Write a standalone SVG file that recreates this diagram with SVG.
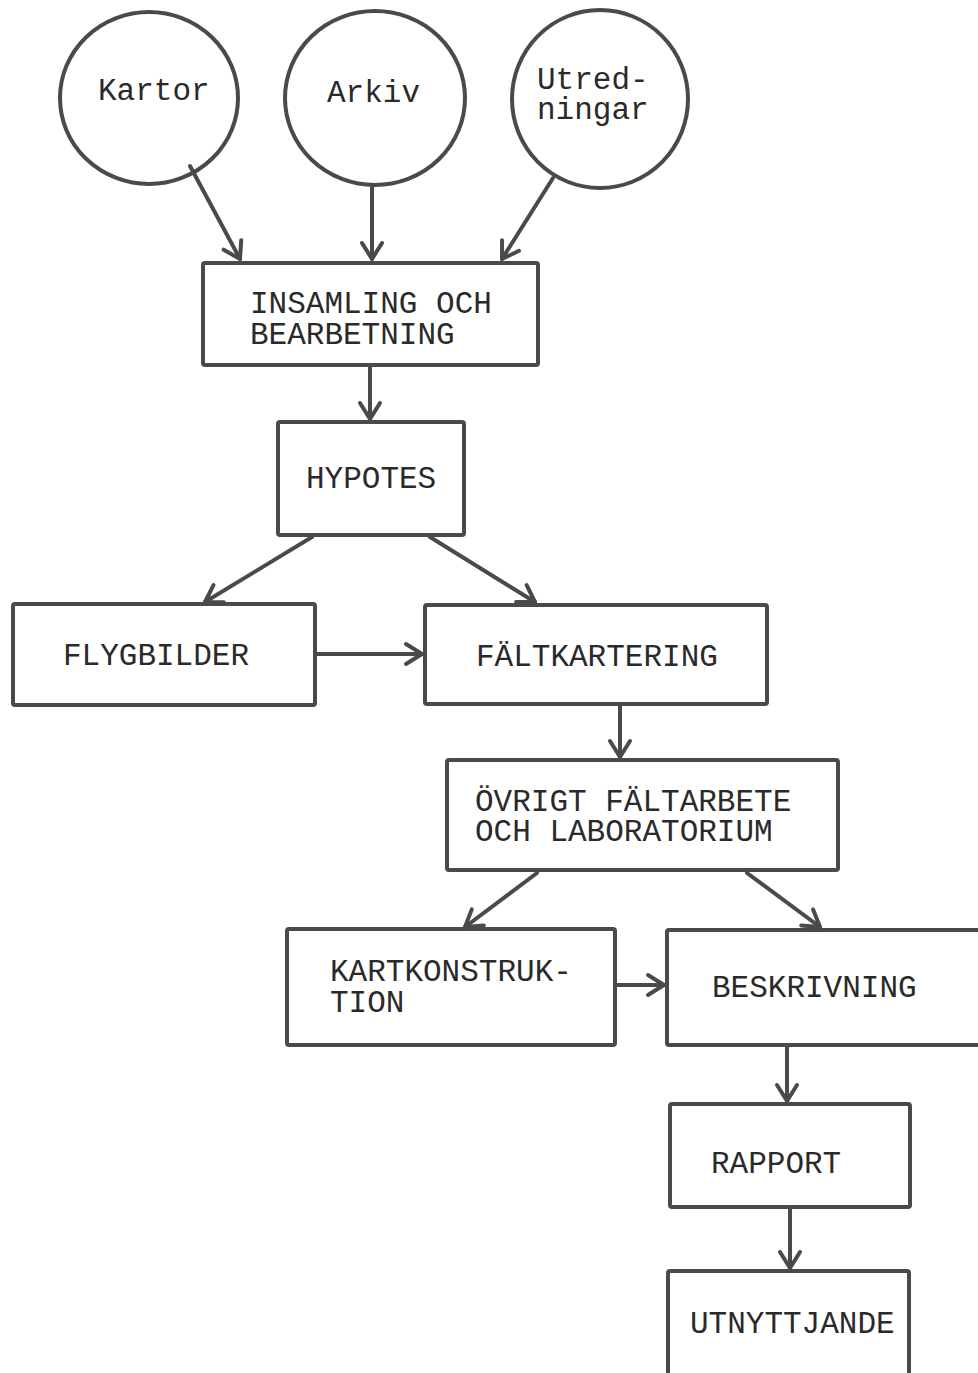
<svg xmlns="http://www.w3.org/2000/svg" width="978" height="1373" viewBox="0 0 978 1373">
<style>
.n{fill:#fff;stroke:#4a4a4a;stroke-width:4;stroke-linejoin:round}
.t{font-family:"Liberation Mono","DejaVu Sans Mono",monospace;font-size:31px;fill:#2a2a2a}
.c{fill:none;stroke:#4a4a4a;stroke-width:4;stroke-linecap:round}
</style>
<defs>
<marker id="a" viewBox="-20 -13 23 26" refX="0" refY="0" markerWidth="23" markerHeight="26" markerUnits="userSpaceOnUse" orient="auto">
<path d="M-16,-10 L0,0 L-16,10" fill="none" stroke="#4a4a4a" stroke-width="4" stroke-linecap="round" stroke-linejoin="round"/>
</marker>
</defs>
<rect width="978" height="1373" fill="#fff"/>
<g id="kartor"><ellipse class="n" cx="149" cy="98" rx="89" ry="86"/><text class="t" x="98" y="100">Kartor</text></g>
<g id="arkiv"><ellipse class="n" cx="375" cy="98" rx="90" ry="87"/><text class="t" x="327" y="102">Arkiv</text></g>
<g id="utredningar"><ellipse class="n" cx="600" cy="99" rx="88" ry="89"/><text class="t" x="537" y="89">Utred-</text><text class="t" x="537" y="119">ningar</text></g>
<g id="insamling"><rect class="n" x="203" y="263" width="335" height="102" rx="2"/><text class="t" x="250" y="313">INSAMLING OCH</text><text class="t" x="250" y="344">BEARBETNING</text></g>
<g id="hypotes"><rect class="n" x="278" y="422" width="186" height="113" rx="2"/><text class="t" x="306" y="488">HYPOTES</text></g>
<g id="flygbilder"><rect class="n" x="13" y="604" width="302" height="101" rx="2"/><text class="t" x="63" y="665">FLYGBILDER</text></g>
<g id="faltkartering"><rect class="n" x="425" y="605" width="342" height="99" rx="2"/><text class="t" x="476" y="666">FÄLTKARTERING</text></g>
<g id="ovrigt"><rect class="n" x="447" y="760" width="391" height="110" rx="2"/><text class="t" x="475" y="811">ÖVRIGT FÄLTARBETE</text><text class="t" x="475" y="841">OCH LABORATORIUM</text></g>
<g id="kartkonstruktion"><rect class="n" x="287" y="929" width="328" height="116" rx="2"/><text class="t" x="330" y="981">KARTKONSTRUK-</text><text class="t" x="330" y="1012">TION</text></g>
<g id="beskrivning"><rect class="n" x="667" y="930" width="320" height="115" rx="2"/><text class="t" x="712" y="997">BESKRIVNING</text></g>
<g id="rapport"><rect class="n" x="670" y="1104" width="240" height="103" rx="2"/><text class="t" x="711" y="1173">RAPPORT</text></g>
<g id="utnyttjande"><rect class="n" x="668" y="1271" width="241" height="110" rx="2"/><text class="t" x="690" y="1333">UTNYTTJANDE</text></g>
<g id="connectors">
<path class="c" marker-end="url(#a)" d="M190,166 L240,259"/>
<path class="c" marker-end="url(#a)" d="M372,187 L372,259"/>
<path class="c" marker-end="url(#a)" d="M553,178 L502,259"/>
<path class="c" marker-end="url(#a)" d="M370,367 L370,419"/>
<path class="c" marker-end="url(#a)" d="M312,537 L205,602"/>
<path class="c" marker-end="url(#a)" d="M430,537 L535,602"/>
<path class="c" marker-end="url(#a)" d="M317,654 L422,654"/>
<path class="c" marker-end="url(#a)" d="M620,706 L620,757"/>
<path class="c" marker-end="url(#a)" d="M537,873 L465,927"/>
<path class="c" marker-end="url(#a)" d="M747,873 L820,927"/>
<path class="c" marker-end="url(#a)" d="M617,985 L664,985"/>
<path class="c" marker-end="url(#a)" d="M787,1047 L787,1101"/>
<path class="c" marker-end="url(#a)" d="M790,1209 L790,1268"/>
</g>
</svg>
